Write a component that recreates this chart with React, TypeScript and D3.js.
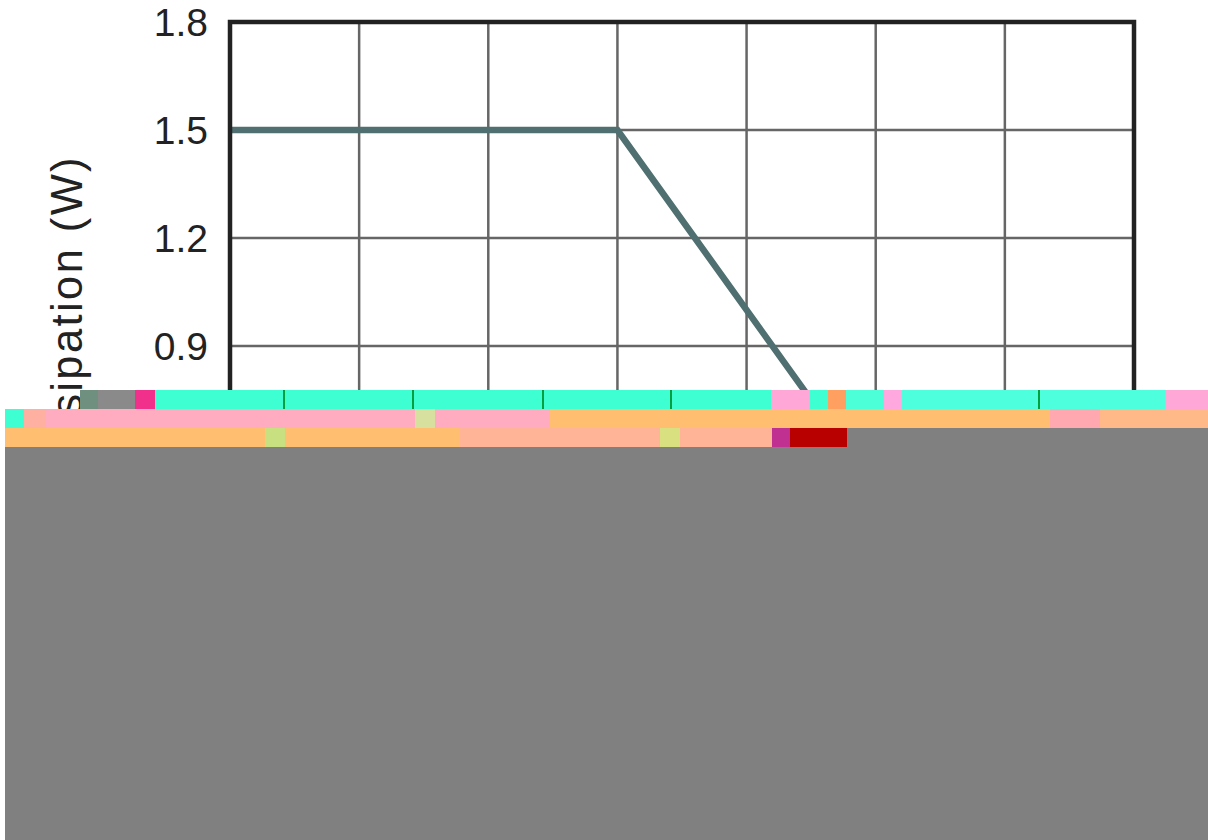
import React, { useEffect, useRef } from 'react';
import * as d3 from 'd3';

const temps = [-50, 25, 100];
const watts = [1.5, 1.5, 0];
const xTicks = [-50, -25, 0, 25, 50, 75, 100, 125];
const yTicks = [0, 0.3, 0.6, 0.9, 1.2, 1.5, 1.8];
const yTitle = 'Power Dissipation (W)';

// colour bands that cover the lower part of the picture: [x0, x1, y0, y1, fill]
const glitchBlocks: [number, number, number, number, string][] = [
  [5, 1208, 447, 840, '#808080'],
  [847, 1208, 428, 447, '#808080'],
  [80, 98, 390, 409, '#6f8f7f'],
  [98, 135, 390, 409, '#8a8a8a'],
  [135, 155, 390, 409, '#f0308a'],
  [155, 771, 390, 409, '#3dffd2'],
  [771, 810, 390, 409, '#ffa8d8'],
  [810, 828, 390, 409, '#3dffd2'],
  [828, 846, 390, 409, '#ffa060'],
  [846, 884, 390, 409, '#4dffd8'],
  [884, 902, 390, 409, '#ffa8e0'],
  [902, 1165, 390, 409, '#4dffdc'],
  [1165, 1208, 390, 409, '#ffa8d8'],
  [5, 24, 409, 428, '#3dffd2'],
  [24, 46, 409, 428, '#ffb0a0'],
  [46, 550, 409, 428, '#ffacc0'],
  [415, 435, 409, 428, '#d8e0a0'],
  [550, 1050, 409, 428, '#ffbe70'],
  [1050, 1100, 409, 428, '#ffa8b0'],
  [1100, 1208, 409, 428, '#ffb888'],
  [5, 460, 428, 447, '#ffbe70'],
  [265, 285, 428, 447, '#c8e080'],
  [460, 772, 428, 447, '#ffb498'],
  [660, 680, 428, 447, '#d8e080'],
  [772, 790, 428, 447, '#c03090'],
  [790, 847, 428, 447, '#b80000'],
];
const glitchTicks = [284, 413, 543, 671, 1039];

const margin = { top: 22, right: 74, bottom: 170, left: 230 };
const width = 1208;
const height = 840;

const App: React.FC = () => {
  const svgRef = useRef<SVGSVGElement>(null);

  useEffect(() => {
    if (!svgRef.current) return;
    const svg = d3.select(svgRef.current);
    svg.selectAll('*').remove();

    const x = d3.scaleLinear().domain([-50, 125]).range([margin.left, width - margin.right]);
    const y = d3.scaleLinear().domain([0, 1.8]).range([height - margin.bottom, margin.top]);

    // Grid
    svg.append('g')
      .selectAll('line')
      .data(xTicks.slice(1, -1))
      .enter().append('line')
      .attr('x1', d => x(d)).attr('x2', d => x(d))
      .attr('y1', y(1.8)).attr('y2', y(0))
      .attr('stroke', '#666').attr('stroke-width', 2.5);
    svg.append('g')
      .selectAll('line')
      .data(yTicks.slice(1, -1))
      .enter().append('line')
      .attr('x1', x(-50)).attr('x2', x(125))
      .attr('y1', d => y(d)).attr('y2', d => y(d))
      .attr('stroke', '#666').attr('stroke-width', 2.5);

    // Derating curve
    const line = d3.line<number>().x(d => x(d)).y((_, i) => y(watts[i]));
    svg.append('path')
      .attr('d', line(temps))
      .attr('fill', 'none')
      .attr('stroke', '#4f6f70')
      .attr('stroke-width', 6.5);

    // Frame
    svg.append('rect')
      .attr('x', x(-50)).attr('y', y(1.8))
      .attr('width', x(125) - x(-50)).attr('height', y(0) - y(1.8))
      .attr('fill', 'none')
      .attr('stroke', '#222').attr('stroke-width', 4.5);

    // Y axis labels
    const yAxis = svg.append('g')
      .attr('transform', `translate(${margin.left},1.5)`)
      .call(d3.axisLeft(y).tickValues(yTicks).tickSize(0).tickPadding(22).tickFormat(d3.format('.1f')));
    yAxis.select('.domain').remove();
    yAxis.selectAll('text')
      .style('font-family', '"Liberation Sans", Arial, sans-serif')
      .style('font-size', '39px')
      .style('fill', '#222');

    svg.append('text')
      .attr('transform', `translate(82,155) rotate(-90)`)
      .attr('text-anchor', 'end')
      .style('font-family', '"Liberation Sans", Arial, sans-serif')
      .style('font-size', '43.5px')
      .style('letter-spacing', '2.4px')
      .style('fill', '#222')
      .text(yTitle);

    // Bands over the lower part
    svg.append('g')
      .selectAll('rect')
      .data(glitchBlocks)
      .enter().append('rect')
      .attr('x', d => d[0]).attr('y', d => d[2])
      .attr('width', d => d[1] - d[0]).attr('height', d => d[3] - d[2])
      .attr('fill', d => d[4]);
    svg.append('g')
      .selectAll('line')
      .data(glitchTicks)
      .enter().append('line')
      .attr('x1', d => d).attr('x2', d => d)
      .attr('y1', 390).attr('y2', 409)
      .attr('stroke', '#00a040').attr('stroke-width', 2);
  }, []);

  return (
    <svg
      ref={svgRef}
      width={width}
      height={height}
      style={{ position: 'absolute', left: 0, top: 0, background: '#fff' }}
    />
  );
};

export default App;
